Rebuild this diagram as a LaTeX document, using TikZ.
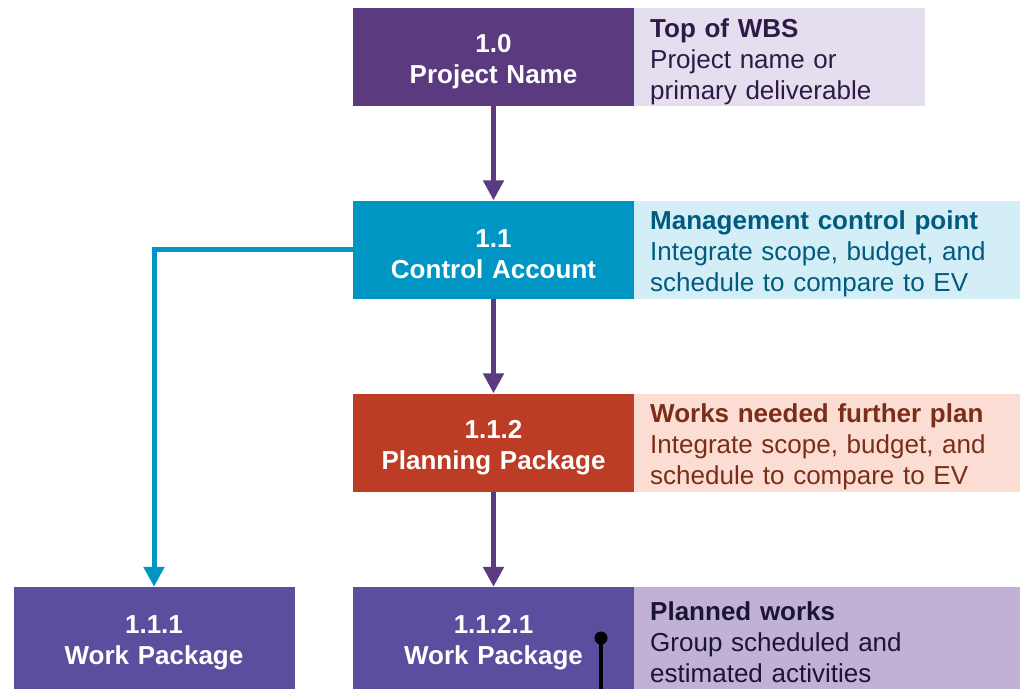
\documentclass[tikz,border=0pt]{standalone}
\usepackage{fontspec}
\setmainfont{Liberation Sans}
\usepackage{xcolor}
\usetikzlibrary{arrows.meta, positioning}

\definecolor{topPurple}{HTML}{5B3A80}
\definecolor{topLight}{HTML}{E5DEEE}
\definecolor{topText}{HTML}{2E1A47}
\definecolor{caBlue}{HTML}{0096C3}
\definecolor{caLight}{HTML}{D4EEF8}
\definecolor{caText}{HTML}{005B7F}
\definecolor{ppRed}{HTML}{BC3C25}
\definecolor{ppLight}{HTML}{FCDDD3}
\definecolor{ppText}{HTML}{7A2E17}
\definecolor{wpViolet}{HTML}{5A4F9F}
\definecolor{wpLight}{HTML}{C1B1D7}
\definecolor{wpText}{HTML}{1A1530}

\tikzset{
  wbsbox/.style={inner sep=0pt, minimum width=281pt, minimum height=98pt,
    text width=281pt, align=center, text=white,
    font=\fontsize{26}{31}\selectfont\bfseries,
    execute at begin node={\rule{0pt}{28pt}}},
  descbox/.style={anchor=west, inner xsep=16pt, inner ysep=0pt,
    minimum height=98pt, align=left, font=\fontsize{26}{31}\selectfont,
    execute at begin node={\rule{0pt}{28pt}}},
  flow/.style={line width=5pt, -{Triangle[width=20pt,length=20pt]}}
}

\begin{document}
\begin{tikzpicture}[x=1pt, y=-1pt]
  \useasboundingbox (0,0) rectangle (1030,689);

  %% WBS levels
  \node[wbsbox, fill=topPurple] (pn) at (493.5,57) {1.0\\Project Name};
  \node[wbsbox, fill=caBlue]    (ca) at (493.5,249.5) {1.1\\Control Account};
  \node[wbsbox, fill=ppRed]     (pp) at (493.5,442.5) {1.1.2\\Planning Package};
  \node[wbsbox, fill=wpViolet, minimum height=102pt] (wpb) at (493.5,638) {1.1.2.1\\Work Package};
  \node[wbsbox, fill=wpViolet, minimum height=102pt] (wpa) at (154,638) {1.1.1\\Work Package};

  %% Side notes
  \node[descbox, fill=topLight, text=topText, minimum width=291pt, text width=259pt]
    (pnnote) at (634,57) {\textbf{Top of WBS}\\Project name or\\primary deliverable};
  \node[descbox, fill=caLight, text=caText, minimum width=386pt, text width=354pt]
    (canote) at (634,249.5) {\textbf{Management control point}\\Integrate scope, budget, and\\schedule to compare to EV};
  \node[descbox, fill=ppLight, text=ppText, minimum width=386pt, text width=354pt]
    (ppnote) at (634,442.5) {\textbf{Works needed further plan}\\Integrate scope, budget, and\\schedule to compare to EV};
  \node[descbox, fill=wpLight, text=wpText, minimum width=386pt, text width=354pt, minimum height=102pt]
    (wpnote) at (634,638) {\textbf{Planned works}\\Group scheduled and\\estimated activities};

  %% Connectors
  \draw[flow, topPurple] (pn) -- (ca);
  \draw[flow, topPurple] (ca) -- (pp);
  \draw[flow, topPurple] (pp) -- (wpb);
  \draw[flow, caBlue] (ca.west) -| (wpa.north);

  %% Pin
  \coordinate (pin) at (601,638);
  \coordinate (pinend) at (601,689);
  \draw[line width=4pt] (pin) -- (pinend);
  \fill (pin) circle (6.5);
\end{tikzpicture}
\end{document}
